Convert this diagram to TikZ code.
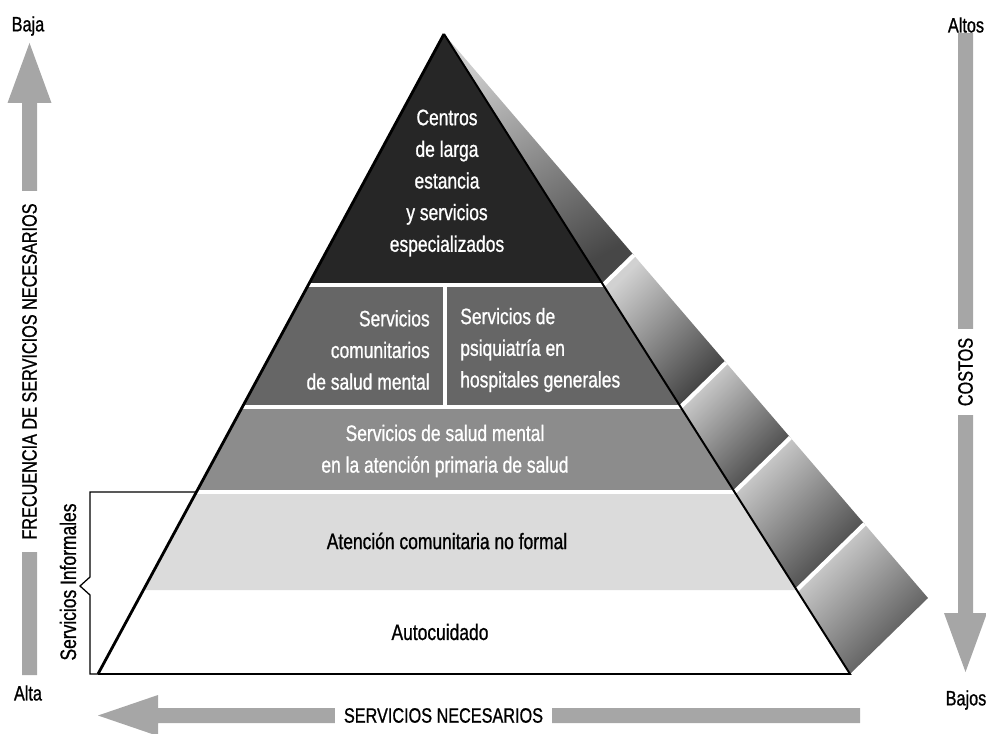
\documentclass[tikz,border=0pt]{standalone}
\usepackage{fontspec}
\setmainfont{Liberation Sans}[FakeStretch=0.78, FakeBold=0.9]
\usetikzlibrary{calc}
\tikzset{
	lvltext/.style={font=\fontsize{15.9}{22.5}\selectfont, align=center, inner sep=0pt},
	axislabel/.style={font=\fontsize{14.8}{18}\selectfont, inner sep=0pt},
	cutlabel/.style={axislabel, fill=white, inner ysep=5pt},
	arrowgray/.style={fill=black!35},
	gap/.style={draw=white, line width=2.2pt},
	facegap/.style={draw=white, line width=3pt},
}

\begin{document}
\begin{tikzpicture}[x=0.025cm, y=-0.025cm]
			%%%%% START %%%%%
			\useasboundingbox (0,0) rectangle (986,734);
			
			\coordinate (apex) at (444,34);
			\coordinate (bl) at (98,674);
			\coordinate (br) at (850,674);
			\coordinate (bo) at (928,598);
			
			\coordinate (l1) at ($(apex)!0.3922!(bl)$);
			\coordinate (r1) at ($(apex)!0.3922!(br)$);
			\coordinate (q1) at ($(apex)!0.3922!(bo)$);
			\coordinate (l2) at ($(apex)!0.5828!(bl)$);
			\coordinate (r2) at ($(apex)!0.5828!(br)$);
			\coordinate (q2) at ($(apex)!0.5828!(bo)$);
			\coordinate (l3) at ($(apex)!0.7156!(bl)$);
			\coordinate (r3) at ($(apex)!0.7156!(br)$);
			\coordinate (q3) at ($(apex)!0.7156!(bo)$);
			\coordinate (l4) at ($(apex)!0.8688!(bl)$);
			\coordinate (r4) at ($(apex)!0.8688!(br)$);
			\coordinate (q4) at ($(apex)!0.8688!(bo)$);
			
			% side face
			\shade[top color=black!20, bottom color=black!72, shading angle=30] (apex) -- (r1) -- (q1) -- cycle;
			\shade[top color=black!18, bottom color=black!75, shading angle=45] (r1) -- (r2) -- (q2) -- (q1) -- cycle;
			\shade[top color=black!18, bottom color=black!75, shading angle=45] (r2) -- (r3) -- (q3) -- (q2) -- cycle;
			\shade[top color=black!18, bottom color=black!75, shading angle=45] (r3) -- (r4) -- (q4) -- (q3) -- cycle;
			\shade[top color=black!15, bottom color=black!70, shading angle=45] (r4) -- (br) -- (bo) -- (q4) -- cycle;
			
			% levels
			\fill[black!85] (apex) -- (r1) -- (l1) -- cycle;
			\fill[black!60] (l1) -- (r1) -- (r2) -- (l2) -- cycle;
			\fill[black!45] (l2) -- (r2) -- (r3) -- (l3) -- cycle;
			\fill[black!14] (l3) -- (r3) -- (r4) -- (l4) -- cycle;
			
			\draw[gap] (l1) -- (r1);
			\draw[gap] (l2) -- (r2);
			\draw[gap] (l3) -- (r3);
			\draw[gap] (445,285) -- (445,407);
			
			\draw[facegap] (r1) -- (q1);
			\draw[facegap] (r2) -- (q2);
			\draw[facegap] (r3) -- (q3);
			\draw[facegap] (r4) -- (q4);
			
			\draw[line width=2pt] (bl) -- (apex);
			\draw[line width=1.4pt] (apex) -- (br) -- (bl);
			
			% texts
			\node[lvltext, text=white] (centros) at (447,183) {Centros\\de larga\\estancia\\y servicios\\especializados};
			\node[lvltext, text=white, align=right, anchor=east] (comun) at (430,350) {Servicios\\comunitarios\\de salud mental};
			\node[lvltext, text=white, align=left, anchor=west] (psiq) at (460,350) {Servicios de\\psiquiatría en\\hospitales generales};
			\node[lvltext, text=white] (primaria) at (445,451) {Servicios de salud mental\\en la atención primaria de salud};
			\node[lvltext] (noformal) at (447,541) {Atención comunitaria no formal};
			\node[lvltext] (auto) at (440,632) {Autocuidado};
			
			% bracket
			\draw[line width=0.9pt] (l3) -- (90,492) -- (90,577) -- (80,586) -- (90,595) -- (90,674) -- (bl);
			\node[lvltext, rotate=90] (informales) at (68,582) {Servicios Informales};
			
			% frecuencia
			\fill[arrowgray] (22,675) -- (22,103) -- (7.5,103) -- (29.5,43) -- (51.5,103) -- (37,103) -- (37,675) -- cycle;
			\node[cutlabel, rotate=90, inner xsep=8.5pt] (frecuencia) at (29.5,371.5) {FRECUENCIA DE SERVICIOS NECESARIOS};
			\node[axislabel] (baja) at (28,26) {Baja};
			\node[axislabel] (alta) at (28,693) {Alta};
			
			% costos
			\fill[arrowgray] (958,33) -- (958,613) -- (944,613) -- (965.5,672) -- (987,613) -- (973,613) -- (973,33) -- cycle;
			\node[cutlabel, rotate=90, inner xsep=6pt] (costos) at (965.5,372) {COSTOS};
			\node[axislabel] (altos) at (966,25) {Altos};
			\node[axislabel] (bajos) at (966,700) {Bajos};
			
			% servicios
			\fill[arrowgray] (860,708) -- (158,708) -- (158,695) -- (98,715.5) -- (158,736) -- (158,723) -- (860,723) -- cycle;
			\node[cutlabel, inner xsep=6.4pt] (servicios) at (443.5,715.5) {SERVICIOS NECESARIOS};
			
			%%%%% END %%%%%
\end{tikzpicture}
\end{document}
